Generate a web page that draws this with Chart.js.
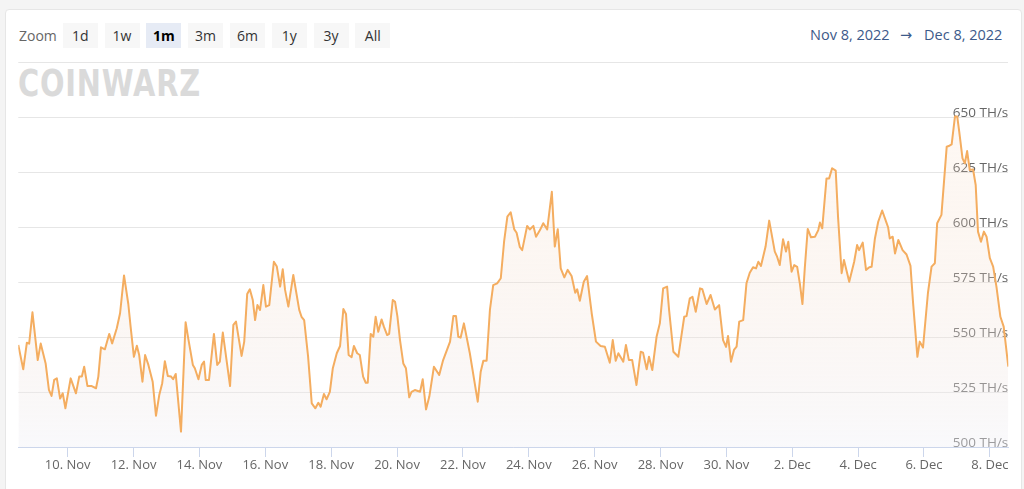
<!DOCTYPE html>
<html>
<head>
<meta charset="utf-8">
<title>CoinWarz hashrate</title>
<script src="https://cdn.jsdelivr.net/npm/chart.js@4.4.2/dist/chart.umd.min.js"></script>
<style>
  html, body { margin: 0; padding: 0; background: #f4f4f4; }
  body { width: 1024px; height: 489px; overflow: hidden; position: relative;
         font-family: "Open Sans", "DejaVu Sans", sans-serif; }
  .card { position: absolute; left: 5px; top: 9px; width: 1015px; height: 490px;
          background: #fff; border: 1px solid #e6e6e6; border-radius: 4px; }
  .zoom-label { position: absolute; left: 19px; top: 26px; font-size: 14px; color: #666; }
  .btn { position: absolute; top: 23px; width: 35px; height: 25px; line-height: 25px;
         background: #f7f7f7; color: #333; font-size: 14px; text-align: center; }
  .btn.sel { background: #e6ebf5; color: #000; font-weight: bold; }
  .range { position: absolute; top: 25px; font-size: 14.5px; color: #3d5a8a; white-space: nowrap; }
  .logo { position: absolute; left: 18px; top: 62px; font-family: "DejaVu Sans", sans-serif;
          font-weight: bold; font-size: 37px; color: #dadada; letter-spacing: 1px;
          transform: scaleX(0.78); transform-origin: left top; }
  .wrap { position: absolute; left: 0; top: 0; width: 1024px; height: 489px; }
</style>
</head>
<body>
<div class="card"></div>
<div class="zoom-label">Zoom</div>
<div id="buttons"></div>
<div class="range" style="left:810px">Nov 8, 2022</div>
<div class="range" style="left:900px">&rarr;</div>
<div class="range" style="left:924px">Dec 8, 2022</div>
<div class="logo">COINWARZ</div>
<div class="wrap"><canvas id="chart"></canvas></div>

<script>
// ---------- DATA (x = day of November, values > 30 are December) ----------
const zoomButtons = ["1d", "1w", "1m", "3m", "6m", "1y", "3y", "All"];
const selectedZoom = "1m";

const days = [8.50,8.65,8.76,8.83,8.93,9.09,9.18,9.33,9.43,9.51,9.59,9.67,9.77,9.85,9.93,10.09,10.25,10.35,10.43,10.50,
  10.60,10.73,10.86,10.93,11.01,11.13,11.26,11.35,11.49,11.59,11.71,11.84,11.91,12.01,12.10,12.17,12.27,12.35,12.45,12.58,
  12.68,12.78,12.87,12.95,13.04,13.14,13.20,13.28,13.44,13.58,13.66,13.80,13.86,13.97,14.07,14.14,14.19,14.29,14.44,14.54,
  14.62,14.71,14.93,15.03,15.11,15.28,15.36,15.45,15.53,15.62,15.69,15.76,15.84,15.94,16.02,16.12,16.26,16.35,16.45,16.53,
  16.60,16.70,16.85,17.03,17.10,17.18,17.30,17.41,17.52,17.61,17.68,17.78,17.86,17.96,18.05,18.17,18.27,18.37,18.45,18.53,
  18.62,18.69,18.79,18.87,18.97,19.05,19.11,19.20,19.28,19.35,19.43,19.53,19.60,19.70,19.76,19.87,19.94,20.01,20.09,20.19,
  20.27,20.37,20.44,20.54,20.70,20.78,20.88,20.98,21.12,21.28,21.40,21.61,21.71,21.79,21.86,21.93,22.03,22.21,22.45,22.54,
  22.62,22.72,22.82,22.92,23.04,23.15,23.25,23.35,23.45,23.56,23.63,23.73,23.80,23.95,24.03,24.14,24.22,24.34,24.44,24.56,
  24.70,24.79,24.88,24.97,25.08,25.18,25.30,25.41,25.47,25.55,25.67,25.77,25.91,26.04,26.18,26.31,26.46,26.55,26.64,26.72,
  26.87,26.95,27.04,27.14,27.27,27.40,27.47,27.58,27.65,27.75,27.88,27.98,28.08,28.20,28.26,28.39,28.54,28.72,28.79,28.89,
  28.97,29.07,29.20,29.27,29.40,29.52,29.65,29.78,29.90,29.99,30.05,30.14,30.23,30.31,30.39,30.51,30.61,30.71,30.81,30.90,
  30.97,31.05,31.19,31.30,31.37,31.47,31.54,31.62,31.72,31.81,31.88,31.98,32.06,32.15,32.23,32.31,32.38,32.47,32.57,32.69,
  32.79,32.84,32.91,33.04,33.12,33.21,33.32,33.39,33.50,33.57,33.73,33.88,33.97,34.03,34.14,34.24,34.34,34.41,34.51,34.61,
  34.73,34.86,34.91,34.96,35.05,35.12,35.22,35.35,35.47,35.59,35.67,35.80,35.87,35.97,36.12,36.23,36.33,36.40,36.53,36.69,
  36.75,36.84,36.94,37.01,37.07,37.17,37.24,37.31,37.39,37.49,37.57,37.64,37.73,37.82,37.90,38.00,38.10,38.20,38.32,38.42,
  38.56];

const hashrate = [546.4,535.3,547.4,547,561.2,539.5,547,538,526,523.2,530.5,531.2,522,524.4,517.6,531.2,524.4,532,532,536.5,
  527.7,527.7,526.7,532,545.3,544.4,551.4,547.1,554,560.8,578,565,554.7,541,546,541.8,529.7,541.8,537.3,529.7,
  514.2,523.6,529,539,532.3,532,530.8,533.2,507,556.7,549.4,537.3,535.8,530.8,537.3,538.8,530.5,530.5,551.4,537.3,
  538.8,552,527.7,555.5,557,541.4,547.9,569.5,571.7,566.8,557.7,564.5,562.3,573.6,563.8,564.5,584.2,582,572.9,580.8,
  571.4,563.8,578.2,562.3,559.2,557.7,541,519.8,517.6,520.1,518.3,524.1,521.7,525.1,535.8,542.6,545.9,562.7,560.5,541.8,
  540.8,545.9,542.6,541.8,532,529.2,529.2,551.4,550.1,559.2,552.4,558,554.7,550.9,551.4,566.8,566,559.5,548.6,538,
  535.8,522.6,525.1,525.9,525.1,530.8,517.1,522.9,536.5,532.7,539.5,547.9,559.5,559.5,550.1,549.7,556.2,542.6,520.6,534.2,
  539.2,539.2,562.3,573.6,574.4,576.7,593.3,604.7,606.7,598.9,597.4,590.8,589.5,600.5,598.9,600.5,595.6,598.6,601.7,598.9,
  616,591.1,599,581.2,577.1,580.5,577.7,570.1,571.7,566.5,575.1,577.7,560.8,547.9,545.9,545.6,538.3,548.6,539.2,542.6,
  538.8,546.4,539.5,539.5,528.2,543.3,542.9,535.3,541,535,550.1,556.2,572.1,572.9,562.3,543.3,541,559.2,559.5,567.6,
  568.3,561.5,572.1,571.7,565,569.1,562.5,564.5,548.6,545.5,550.5,538.8,544.1,545.6,557,557.7,574.4,579.2,581.7,581.2,
  584.2,582.3,591.1,602.9,597.1,588.8,586.5,582.7,594.4,588.8,593.3,579.7,582.7,581.9,574.4,565,581.2,599.1,595.3,595.6,
  598.6,602,599.4,622.1,622.1,626.7,625.6,604.7,579,585,575.1,584.2,591.8,589.5,592.9,580.5,581.7,581.9,594.8,602.4,
  607.5,602,599.9,594.8,595.6,588,594.1,589.5,587.5,582.3,565.3,541,547.9,545.2,570,582,583.5,601.7,605.5,636.5,
  636.8,637.6,650.2,650.2,643.3,631.2,629,634.5,625.9,626.2,619.1,597.9,593.3,597.9,595.6,585.8,582,572.9,559.2,554.7,
  536.5];

const xTicks = [10, 12, 14, 16, 18, 20, 22, 24, 26, 28, 30, 32, 34, 36, 38];
const yTicks = [500, 525, 550, 575, 600, 625, 650, 675];

// ---------- ZOOM BUTTONS ----------
const btnHost = document.getElementById("buttons");
zoomButtons.forEach((b, i) => {
  const el = document.createElement("div");
  el.className = "btn" + (b === selectedZoom ? " sel" : "");
  el.style.left = (62.7 + i * 41.8) + "px";
  el.textContent = b;
  btnHost.appendChild(el);
});

// ---------- CHART ----------
const points = days.map((d, i) => ({ x: d, y: hashrate[i] }));

function dayLabel(d) {
  return d > 30 ? (d - 30) + ". Dec" : d + ". Nov";
}

new Chart(document.getElementById("chart"), {
  type: "line",
  data: {
    datasets: [{
      data: points,
      borderColor: "#f4ad60",
      borderWidth: 2,
      borderJoinStyle: "round",
      pointRadius: 0,
      tension: 0,
      fill: "start",
      backgroundColor: (ctx) => {
        const area = ctx.chart.chartArea;
        if (!area) return "rgba(247,163,92,0.04)";
        const g = ctx.chart.ctx.createLinearGradient(0, area.top, 0, area.bottom);
        g.addColorStop(0, "rgba(247,200,160,0.09)");
        g.addColorStop(1, "rgba(240,240,246,0.4)");
        return g;
      }
    }]
  },
  options: {
    responsive: true,
    maintainAspectRatio: false,
    animation: false,
    layout: { padding: { left: 18.3, right: 15.7, top: 62, bottom: 16.4 } },
    plugins: { legend: { display: false }, tooltip: { enabled: false } },
    scales: {
      x: {
        type: "linear",
        min: 8.5,
        max: 38.56,
        afterBuildTicks: (axis) => { axis.ticks = xTicks.map(v => ({ value: v })); },
        grid: { drawOnChartArea: false, drawTicks: true, tickLength: 10, color: "#ccd6eb" },
        border: { color: "#ccd6eb", width: 1 },
        ticks: {
          padding: 0,
          color: "#666",
          font: { family: "'Open Sans', sans-serif", size: 13 },
          maxRotation: 0,
          autoSkip: false,
          callback: (v) => dayLabel(v)
        }
      },
      y: {
        position: "right",
        min: 500,
        max: 675,
        afterBuildTicks: (axis) => { axis.ticks = yTicks.map(v => ({ value: v })); },
        grid: { color: "#e6e6e6", drawTicks: false },
        border: { display: false },
        ticks: {
          mirror: true,
          padding: 0,
          labelOffset: -3.5,
          color: "#666",
          font: { family: "'Open Sans', sans-serif", size: 13.5 },
          callback: (v) => v === 675 ? "" : v + " TH/s"
        }
      }
    }
  }
});
</script>
</body>
</html>
